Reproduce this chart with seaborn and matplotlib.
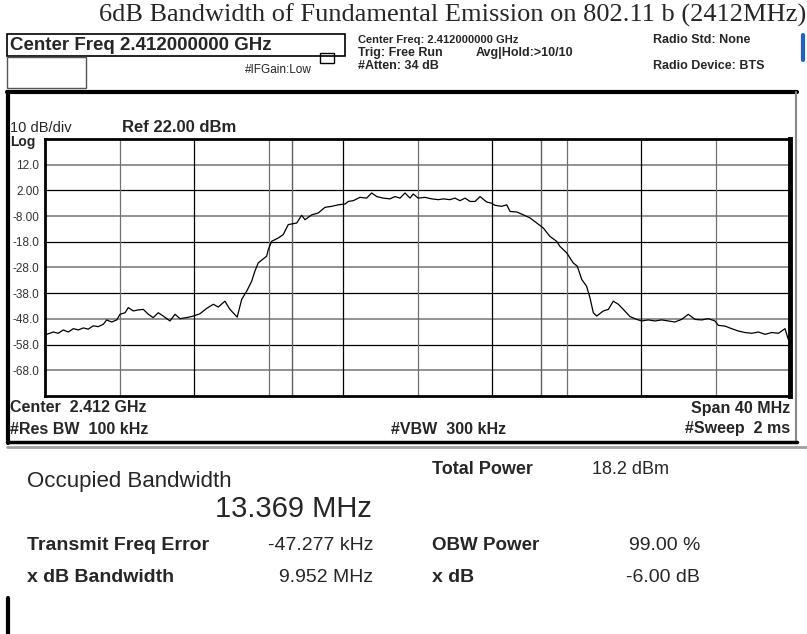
import numpy as np
import pandas as pd
import matplotlib.pyplot as plt
import seaborn as sns

# trace: offset from centre (MHz) and level (dBm)
freq_mhz = [-20.00, -19.91, -19.55, -19.29, -19.02, -18.75, -18.48, -18.21, -17.94, -17.68,
            -17.41, -17.14, -16.87, -16.69, -16.42, -16.15, -15.97, -15.70, -15.53, -15.26,
            -14.99, -14.72, -14.45, -14.19, -13.92, -13.65, -13.29, -13.02, -12.75, -12.39,
            -12.04, -11.68, -11.32, -10.96, -10.70, -10.34, -10.07, -9.68, -9.44, -9.17,
            -8.90, -8.73, -8.55, -8.10, -8.01, -7.83, -7.47, -7.21, -6.94, -6.49,
            -6.22, -6.04, -5.68, -5.33, -4.97, -4.61, -4.25, -3.89, -3.72, -3.45,
            -3.09, -2.73, -2.46, -2.19, -1.84, -1.48, -1.21, -0.94, -0.67, -0.40,
            -0.23, 0.04, 0.40, 0.76, 1.12, 1.39, 1.74, 2.01, 2.28, 2.55,
            2.82, 3.09, 3.36, 3.71, 3.98, 4.16, 4.52, 4.79, 4.97, 5.33,
            5.68, 6.04, 6.40, 6.75, 7.11, 7.47, 7.65, 8.01, 8.36, 8.58,
            8.82, 9.08, 9.26, 9.44, 9.62, 9.98, 10.25, 10.51, 10.78, 11.05,
            11.41, 11.77, 12.04, 12.39, 12.75, 13.11, 13.47, 13.82, 14.18, 14.54,
            14.90, 15.26, 15.61, 15.97, 16.15, 16.51, 16.87, 17.22, 17.58, 17.94,
            18.30, 18.66, 19.02, 19.38, 19.73, 19.91, 20.00]
level_dbm = [-54.5, -54.0, -53.1, -53.6, -52.3, -53.1, -51.8, -52.3, -51.5, -52.0,
             -50.7, -51.0, -50.1, -48.4, -49.2, -48.4, -46.2, -45.6, -43.6, -44.9,
             -44.5, -44.3, -46.2, -47.5, -45.6, -46.9, -48.8, -46.2, -47.9, -47.5,
             -46.9, -46.0, -43.9, -42.3, -43.4, -41.1, -44.3, -47.3, -40.4, -37.2,
             -33.3, -29.4, -26.2, -23.6, -21.0, -17.8, -16.5, -15.2, -11.3, -10.7,
             -7.7, -9.4, -7.5, -6.8, -4.6, -4.2, -3.6, -3.3, -2.3, -2.0,
             -0.7, -1.0, 1.0, -0.4, -1.0, -1.3, -0.4, -1.0, 1.0, -1.0,
             0.6, -1.0, -0.7, -1.3, -1.6, -1.3, -1.6, -1.0, -2.0, -1.0,
             -2.3, -2.3, -0.4, -2.5, -3.0, -3.8, -4.2, -3.6, -6.2, -6.4,
             -7.5, -8.7, -10.7, -12.6, -15.9, -17.8, -19.8, -22.3, -26.2, -27.5,
             -32.7, -35.3, -39.8, -45.6, -46.9, -44.9, -44.3, -41.1, -42.3, -44.3,
             -47.1, -48.2, -48.8, -48.4, -48.8, -48.4, -48.8, -49.2, -48.2, -46.2,
             -48.2, -48.4, -47.9, -48.8, -50.5, -50.8, -51.8, -52.7, -53.3, -53.6,
             -53.1, -54.0, -53.3, -53.6, -51.8, -56.0, -56.5]

ytick_vals = [12, 2, -8, -18, -28, -38, -48, -58, -68]
ytick_labels = ["12.0", "2.00", "-8.00", "-18.0", "-28.0", "-38.0", "-48.0", "-58.0", "-68.0"]
xgrid_mhz = [-16, -12, -8, -4, 0, 4, 8, 12, 16]

ref_level = 22.0
span_mhz = 40.0
freq_error_mhz = -0.047277
obw_mhz = 13.369

W, H = 807, 634
sns.set_style("white")
plt.rcParams['font.family'] = ['Liberation Sans', 'DejaVu Sans']

fig = plt.figure(figsize=(W / 100, H / 100), dpi=100)


def fx(x):
    return x / W


def fy(y):
    return 1 - y / H


def txt(x, y, s, size=9, weight='normal', ha='left', **kw):
    fig.text(fx(x), fy(y), s, fontsize=size, fontweight=weight, ha=ha, va='center', **kw)


def hline(x0, x1, y, **kw):
    fig.add_artist(plt.Line2D([fx(x0), fx(x1)], [fy(y), fy(y)], **kw))


def vline(x, y0, y1, **kw):
    fig.add_artist(plt.Line2D([fx(x), fx(x)], [fy(y0), fy(y1)], **kw))


# title
fig.text(fx(453), fy(15), "6dB Bandwidth of Fundamental Emission on 802.11 b (2412MHz)",
         fontsize=19, ha='center', va='center', family='Liberation Serif')

# header boxes
fig.add_artist(plt.Rectangle((fx(7), fy(56)), fx(338), 22 / H, fill=False, lw=1.2, ec='black'))
fig.add_artist(plt.Rectangle((fx(7), fy(88)), fx(79), 31 / H, fill=False, lw=1.0, ec='#555555'))
txt(10, 45, "Center Freq 2.412000000 GHz", size=13.5, weight='bold')
txt(245, 70, "#IFGain:Low", size=8.5)
fig.add_artist(plt.Rectangle((fx(320), fy(63)), fx(14), 10 / H, fill=False, lw=1.0, ec='black'))
txt(358, 40, "Center Freq: 2.412000000 GHz", size=8, weight='bold')
txt(358, 53, "Trig: Free Run", size=9, weight='bold')
txt(476, 53, "Avg|Hold:>10/10", size=9, weight='bold')
txt(358, 66, "#Atten: 34 dB", size=9, weight='bold')
txt(653, 40, "Radio Std: None", size=9, weight='bold')
txt(653, 66, "Radio Device: BTS", size=9, weight='bold')
vline(803, 35, 60, color='#1f5fd6', lw=3)

# instrument frame
hline(7, 797, 92, color='black', lw=3)
vline(8, 92, 443, color='black', lw=3)
vline(796, 92, 443, color='#888888', lw=1.5)
hline(7, 797, 442, color='black', lw=2.5)

# trace axes
ax = fig.add_axes([fx(45), fy(396), (790 - 45) / W, (396 - 139) / H])
df = pd.DataFrame({"freq": freq_mhz, "level": level_dbm})
sns.lineplot(data=df, x="freq", y="level", color='black', lw=0.9, ax=ax, zorder=3)
ax.set_xlim(-span_mhz / 2, span_mhz / 2)
ax.set_ylim(ref_level - 100, ref_level)
for i, v in enumerate(ytick_vals):
    ax.axhline(v, color='#808080' if i % 2 == 0 else 'black', lw=1.2 if i % 2 == 0 else 0.9, zorder=1)
for i, v in enumerate(xgrid_mhz):
    ax.axvline(v, color='black' if i % 2 else '#707070', lw=0.9, zorder=1)
for v in (freq_error_mhz - obw_mhz / 2, freq_error_mhz + obw_mhz / 2):
    ax.axvline(v, color='#606060', lw=1.0, zorder=1)
ax.set_yticks(ytick_vals)
ax.set_yticklabels(ytick_labels)
ax.set_xticks([])
ax.tick_params(axis='y', length=0, pad=4, labelsize=8.5, labelcolor='#333333')
ax.set_xlabel("")
ax.set_ylabel("")
for side, lw in (("left", 2), ("top", 2), ("bottom", 2), ("right", 3.5)):
    ax.spines[side].set_visible(True)
    ax.spines[side].set_linewidth(lw)
    ax.spines[side].set_color('black')

txt(10, 128, "10 dB/div", size=10.5)
txt(122, 128, "Ref 22.00 dBm", size=12, weight='bold')
txt(10, 142, "Log", size=10, weight='bold')
txt(10, 408, "Center  2.412 GHz", size=11.5, weight='bold')
txt(10, 429, "#Res BW  100 kHz", size=11.5, weight='bold')
txt(449, 429, "#VBW  300 kHz", size=11.5, weight='bold', ha='center')
txt(790, 408, "Span 40 MHz", size=11.5, weight='bold', ha='right')
txt(790, 429, "#Sweep  2 ms", size=11.5, weight='bold', ha='right')

# results panel
hline(7, 807, 447, color='#a0a0a0', lw=2)
txt(27, 481, "Occupied Bandwidth", size=16)
txt(293, 509, "13.369 MHz", size=21, ha='center')
txt(432, 469, "Total Power", size=13, weight='bold')
txt(592, 469, "18.2 dBm", size=13)
txt(27, 545, "Transmit Freq Error", size=14, weight='bold')
txt(373, 545, "-47.277 kHz", size=14, ha='right')
txt(432, 545, "OBW Power", size=13.5, weight='bold')
txt(700, 545, "99.00 %", size=14, ha='right')
txt(27, 577, "x dB Bandwidth", size=14, weight='bold')
txt(373, 577, "9.952 MHz", size=14, ha='right')
txt(432, 577, "x dB", size=14, weight='bold')
txt(700, 577, "-6.00 dB", size=14, ha='right')
vline(8, 598, 634, color='black', lw=3)

fig.savefig("out.png", dpi=100)
